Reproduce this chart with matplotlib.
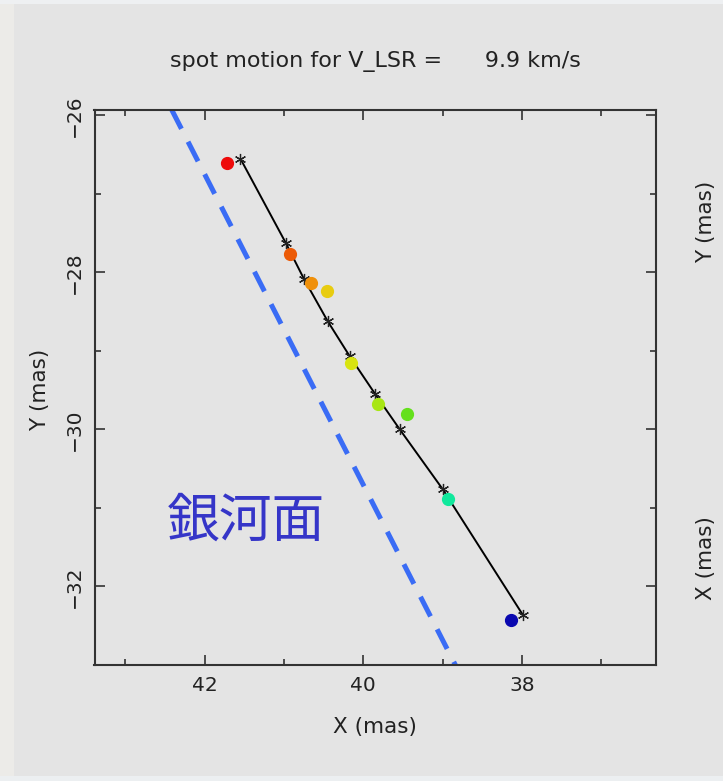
import matplotlib.pyplot as plt
from matplotlib.patches import Rectangle

# model track (asterisks joined by the fitted path)
track_x = [41.55, 40.98, 40.75, 40.45, 40.17, 39.85, 39.54, 39.00, 37.99]
track_y = [-26.55, -27.62, -28.08, -28.62, -29.07, -29.55, -30.00, -30.76, -32.36]

# maser spots, ordered by velocity channel
spot_x = [41.72, 40.93, 40.66, 40.46, 40.16, 39.82, 39.45, 38.93, 38.14]
spot_y = [-26.60, -27.77, -28.14, -28.23, -29.15, -29.68, -29.80, -30.88, -32.43]
spot_err = [0.05, 0.05, 0.05, 0.06, 0.05, 0.05, 0.06, 0.05, 0.04]
spot_colors = ["#ee0a0a", "#ec5a06", "#f0900a", "#e8cc10", "#d8e410",
               "#a8e614", "#64e01c", "#10e89c", "#0a08b0"]

# galactic plane direction
plane_x = [42.42, 38.84]
plane_y = [-25.92, -33.0]

xlim = (43.39, 36.31)
ylim = (-33.0, -25.93)
xmajor = [42, 40, 38]
xminor = [43, 41, 39, 37]
ymajor = [-26, -28, -30, -32]
yminor = [-27, -29, -31, -33]

fig = plt.figure(figsize=(7.23, 7.81), dpi=100)
fig.patch.set_facecolor("#e4e4e4")

# pale strips around the panel
fig.patches.append(Rectangle((0, 0), 14 / 723, 1, transform=fig.transFigure,
                             facecolor="#ecebe8", edgecolor="none", zorder=0))
fig.patches.append(Rectangle((0, 1 - 4 / 781), 1, 4 / 781, transform=fig.transFigure,
                             facecolor="#eef0f2", edgecolor="none", zorder=0))
fig.patches.append(Rectangle((0, 0), 1, 5 / 781, transform=fig.transFigure,
                             facecolor="#eceff1", edgecolor="none", zorder=0))

ax = fig.add_axes([94.5 / 723, 116 / 781, 561.5 / 723, 555 / 781])
ax.set_facecolor("#e4e4e4")

ax.plot(plane_x, plane_y, color="#3a6cf5", lw=3.6, dashes=(4.4, 2.9), zorder=2)

ax.plot(track_x, track_y, color="black", lw=1.4, zorder=3)
ax.plot(track_x, track_y, linestyle="none", marker=(6, 2, 0), markersize=8,
        markeredgewidth=0.9, color="#222222", zorder=4)

for x, y, e, c in zip(spot_x, spot_y, spot_err, spot_colors):
    ax.errorbar(x, y, yerr=e, fmt="o", color=c, markersize=8.5,
                ecolor="#555555", elinewidth=0.8, capsize=0, zorder=5)

ax.text(41.48, -31.17, "銀河面", color="#3535c8", fontsize=38,
        family=["Noto Sans CJK JP", "DejaVu Sans"], ha="center", va="center")

ax.set_xlim(*xlim)
ax.set_ylim(*ylim)
ax.set_xticks(xmajor)
ax.set_xticks(xminor, minor=True)
ax.set_yticks(ymajor)
ax.set_yticks(yminor, minor=True)
ax.set_xticklabels([str(v) for v in xmajor])
ax.set_yticklabels(["\u2212" + str(-v) for v in ymajor], rotation=90, va="center")

ax.tick_params(which="both", direction="in", top=True, right=True,
               color="#333333", labelsize=14.5, labelcolor="#222222")
ax.tick_params(which="major", length=7, width=1.2, pad=8)
ax.tick_params(which="minor", length=4, width=1.2)
for s in ax.spines.values():
    s.set_color("#333333")
    s.set_linewidth(1.5)

label_kw = dict(fontsize=15.5, color="#222222")
fig.text(375 / 723, 1 - 62 / 781, "spot motion for V_LSR =      9.9 km/s",
         ha="center", va="center", fontsize=16, color="#222222")
fig.text(375 / 723, 1 - 727 / 781, "X (mas)", ha="center", va="center", **label_kw)
fig.text(40 / 723, 1 - 390 / 781, "Y (mas)", ha="center", va="center",
         rotation=90, **label_kw)
fig.text(706 / 723, 1 - 222 / 781, "Y (mas)", ha="center", va="center",
         rotation=90, **label_kw)
fig.text(706 / 723, 1 - 558 / 781, "X (mas)", ha="center", va="center",
         rotation=90, **label_kw)

fig.savefig("out.png", dpi=100, facecolor=fig.get_facecolor())
